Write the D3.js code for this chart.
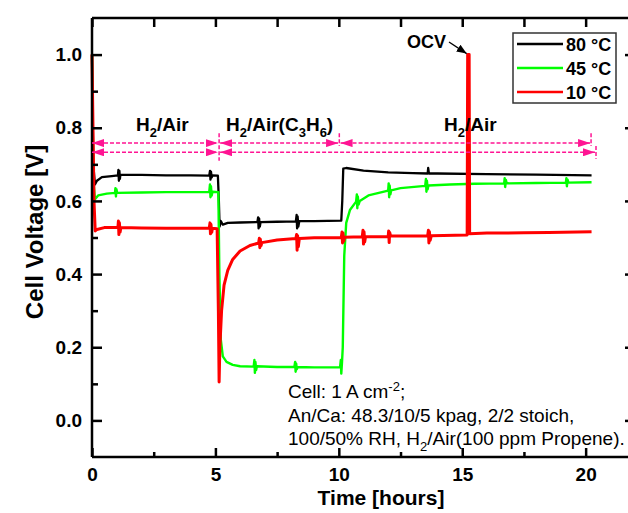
<!DOCTYPE html>
<html><head><meta charset="utf-8">
<script src="https://cdn.jsdelivr.net/npm/d3@7/dist/d3.min.js"></script>
<style>
html,body{margin:0;padding:0;background:#fff;}
svg{display:block;font-family:"Liberation Sans",Arial,sans-serif;}
</style></head>
<body>
<svg id="chart" width="628" height="513"></svg>
<script>
// ---- data (time in hours, voltage in V) ----
const seriesNames = ["80 °C", "45 °C", "10 °C"];
const seriesColors = ["#000000", "#00ff00", "#ff0000"];

const black80 = [
[0,1.0],[0.05,0.70],[0.12,0.645],[0.2,0.655],[0.4,0.665],[0.8,0.668],[1.05,0.670],[1.07,0.685],[1.09,0.655],[1.11,0.682],[1.13,0.66],[1.15,0.671],
[2,0.671],[3,0.670],[4,0.670],[4.75,0.669],[4.78,0.682],[4.8,0.658],[4.82,0.68],[4.85,0.664],[4.88,0.670],[5.1,0.669],[5.14,0.60],[5.17,0.53],
[5.22,0.545],[5.3,0.535],[5.5,0.540],[6,0.541],[6.7,0.542],[6.73,0.555],[6.75,0.525],[6.77,0.552],[6.8,0.53],[6.83,0.542],[7.5,0.543],[8.26,0.544],
[8.29,0.562],[8.31,0.525],[8.33,0.558],[8.36,0.53],[8.4,0.545],[9,0.545],[10.1,0.546],[10.14,0.60],[10.18,0.688],[10.3,0.690],[11,0.683],[12,0.678],
[13,0.676],[13.6,0.675],[13.62,0.69],[13.65,0.675],[14,0.675],[16,0.673],[18,0.672],[20.24,0.670]
];
const green45 = [
[0,1.0],[0.05,0.66],[0.12,0.605],[0.25,0.615],[0.6,0.62],[0.93,0.622],[0.95,0.635],[0.97,0.612],[0.99,0.632],[1.02,0.622],[2,0.623],
[3,0.624],[4,0.624],[4.75,0.624],[4.78,0.645],[4.8,0.61],[4.82,0.64],[4.85,0.615],[4.88,0.625],[5.12,0.624],[5.16,0.40],[5.22,0.22],[5.3,0.175],
[5.45,0.16],[5.7,0.152],[6,0.148],[6.55,0.147],[6.58,0.165],[6.6,0.13],[6.62,0.16],[6.65,0.138],[6.68,0.148],[7.5,0.146],[8.2,0.146],[8.23,0.16],
[8.25,0.133],[8.27,0.156],[8.3,0.14],[8.33,0.146],[9,0.145],[10.05,0.145],[10.08,0.165],[10.1,0.128],[10.13,0.16],[10.16,0.2],[10.22,0.45],[10.3,0.54],[10.45,0.575],
[10.7,0.598],[10.73,0.618],[10.75,0.58],[10.77,0.612],[10.8,0.59],[10.85,0.60],[11.2,0.615],[12,0.628],[12.02,0.648],[12.04,0.61],[12.06,0.642],[12.09,0.618],[12.12,0.629],[12.5,0.635],
[13.5,0.641],[13.53,0.66],[13.55,0.625],[13.57,0.655],[13.6,0.632],[13.63,0.642],[14.5,0.645],[15.5,0.647],[16.7,0.648],[16.72,0.662],[16.74,0.638],[16.77,0.657],[16.8,0.648],
[18,0.649],[19.2,0.650],[19.22,0.662],[19.24,0.64],[19.27,0.658],[19.3,0.650],[20.24,0.651]
];
const red10 = [
[0,1.0],[0.03,0.85],[0.08,0.6],[0.13,0.518],[0.2,0.522],[0.5,0.527],[1.05,0.527],[1.07,0.545],[1.09,0.508],[1.11,0.54],[1.14,0.515],[1.17,0.527],
[2,0.526],[3,0.525],[4,0.525],[4.75,0.525],[4.78,0.54],[4.8,0.51],[4.82,0.536],[4.85,0.514],[4.88,0.525],[5.07,0.524],[5.12,0.30],[5.15,0.105],
[5.18,0.20],[5.25,0.30],[5.35,0.37],[5.5,0.41],[5.7,0.44],[6,0.463],[6.4,0.478],[6.75,0.485],[6.78,0.498],[6.8,0.472],[6.82,0.495],[6.85,0.478],
[6.88,0.486],[7.5,0.493],[8.26,0.497],[8.29,0.508],[8.31,0.465],[8.33,0.505],[8.36,0.475],[8.4,0.497],[9,0.499],[10.1,0.50],[10.13,0.515],[10.15,0.485],
[10.17,0.512],[10.2,0.49],[10.23,0.501],[10.95,0.502],[10.98,0.52],[11,0.482],[11.02,0.516],[11.05,0.488],[11.08,0.502],[12,0.503],[12.02,0.518],[12.04,0.486],[12.06,0.514],[12.1,0.504],[13.6,0.505],
[13.63,0.52],[13.65,0.485],[13.67,0.516],[13.7,0.492],[13.75,0.505],[15.2,0.507],[15.22,1.0],[15.28,1.0],[15.3,0.51],[16,0.512],[17.5,0.513],[18.5,0.514],[20.24,0.516]
];
const seriesData = [black80, green45, red10];

const xTicksMajor = [0, 5, 10, 15, 20];
const xTicksMinor = [2.5, 7.5, 12.5, 17.5];
const yTicksMajor = [0.0, 0.2, 0.4, 0.6, 0.8, 1.0];
const yTicksMinor = [0.1, 0.3, 0.5, 0.7, 0.9];

// annotation spans (hours) and levels (V)
const spanRow1 = [[0, 5.1], [5.19, 9.97], [10.07, 20.18]];
const spanRow2 = [[0, 5.1], [5.19, 20.38]];
const rowLevels = [0.758, 0.733];
const dividers = [[5.15, 0.785, 0.71], [10.02, 0.785, 0.75], [20.22, 0.785, 0.75], [20.42, 0.75, 0.715]];
const regionLabels = [
  {t: 2.85, parts: [["H",0],["2",1],["/Air",0]]},
  {t: 7.6, parts: [["H",0],["2",1],["/Air(C",0],["3",1],["H",0],["6",1],[")",0]]},
  {t: 15.33, parts: [["H",0],["2",1],["/Air",0]]}
];
const ocvPoint = [15.22, 1.0];

// ---- scales ----
const svg = d3.select("#chart");
const x = d3.scaleLinear().domain([0, 22]).range([92, 635]);
const y = d3.scaleLinear().domain([-0.1, 1.1]).range([457, 18]);
const pink = "#ff1493";

// ---- series ----
const line = d3.line().x(d => x(d[0])).y(d => y(d[1]));
const widths = [2.3, 2.4, 3];
seriesData.forEach((s, i) => {
  svg.append("path").datum(s).attr("d", line)
    .attr("fill", "none").attr("stroke", seriesColors[i])
    .attr("stroke-width", widths[i]).attr("stroke-linejoin", "round");
});

// ---- axes frame ----
const ax = svg.append("g").attr("stroke", "#000").attr("stroke-width", 2.5);
ax.append("line").attr("x1", x(0)).attr("x2", x(22)).attr("y1", y(-0.1)).attr("y2", y(-0.1));
ax.append("line").attr("x1", x(0)).attr("x2", x(22)).attr("y1", y(1.1)).attr("y2", y(1.1));
ax.append("line").attr("x1", x(0)).attr("x2", x(0)).attr("y1", y(1.1)).attr("y2", y(-0.1));
ax.append("line").attr("x1", x(22)).attr("x2", x(22)).attr("y1", y(1.1)).attr("y2", y(-0.1));

// bottom axis ticks (inward)
const bottom = d3.axisBottom(x).tickValues(xTicksMajor).tickSizeInner(-9).tickSizeOuter(0).tickPadding(11).tickFormat(d3.format("d"));
const gb = svg.append("g").attr("transform", `translate(0,${y(-0.1)})`).call(bottom);
gb.select(".domain").remove();
gb.selectAll(".tick line").attr("stroke-width", 2.5);
gb.selectAll("text").attr("font-size", 19).attr("font-weight", "bold").attr("fill", "#000")
  .attr("font-family", "Liberation Sans, Arial, sans-serif");
const gbm = svg.append("g").attr("transform", `translate(0,${y(-0.1)})`)
  .call(d3.axisBottom(x).tickValues(xTicksMinor).tickSizeInner(-5).tickSizeOuter(0).tickFormat(""));
gbm.select(".domain").remove(); gbm.selectAll(".tick line").attr("stroke-width", 2.5);

// top axis ticks
const gt = svg.append("g").attr("transform", `translate(0,${y(1.1)})`)
  .call(d3.axisTop(x).tickValues(xTicksMajor.concat(xTicksMinor)).tickSizeInner(-9).tickSizeOuter(0).tickFormat(""));
gt.select(".domain").remove(); gt.selectAll(".tick line").attr("stroke-width", 2.5);

// left axis
const left = d3.axisLeft(y).tickValues(yTicksMajor).tickSizeInner(-10).tickSizeOuter(0).tickPadding(10).tickFormat(d3.format(".1f"));
const gl = svg.append("g").attr("transform", `translate(${x(0)},0)`).call(left);
gl.select(".domain").remove();
gl.selectAll(".tick line").attr("stroke-width", 2.5);
gl.selectAll("text").attr("font-size", 19).attr("font-weight", "bold").attr("fill", "#000")
  .attr("font-family", "Liberation Sans, Arial, sans-serif");
const glm = svg.append("g").attr("transform", `translate(${x(0)},0)`)
  .call(d3.axisLeft(y).tickValues(yTicksMinor).tickSizeInner(-6).tickSizeOuter(0).tickFormat(""));
glm.select(".domain").remove(); glm.selectAll(".tick line").attr("stroke-width", 2.5);

// right axis
const gr = svg.append("g").attr("transform", `translate(${x(22)},0)`)
  .call(d3.axisRight(y).tickValues(yTicksMajor).tickSizeInner(-10).tickSizeOuter(0).tickFormat(""));
gr.select(".domain").remove(); gr.selectAll(".tick line").attr("stroke-width", 2.5);

// axis titles
svg.append("text").attr("x", 381).attr("y", 505).attr("text-anchor", "middle")
  .attr("font-size", 21).attr("font-weight", "bold").text("Time [hours]");
svg.append("text").attr("transform", "translate(43,232) rotate(-90)").attr("text-anchor", "middle")
  .attr("font-size", 24).attr("font-weight", "bold").text("Cell Voltage [V]");

// ---- pink span arrows ----
const defs = svg.append("defs");
defs.append("marker").attr("id", "ah").attr("viewBox", "0 0 12 8").attr("refX", 12).attr("refY", 4)
  .attr("markerWidth", 12).attr("markerHeight", 8).attr("markerUnits", "userSpaceOnUse").attr("orient", "auto-start-reverse")
  .append("path").attr("d", "M0,0 L12,4 L0,8 Z").attr("fill", pink);
const ga = svg.append("g");
[spanRow1, spanRow2].forEach((row, r) => {
  row.forEach(s => {
    ga.append("line").attr("x1", x(s[0])).attr("x2", x(s[1])).attr("y1", y(rowLevels[r])).attr("y2", y(rowLevels[r]))
      .attr("stroke", pink).attr("stroke-width", 1.5).attr("stroke-dasharray", "4,2")
      .attr("marker-start", "url(#ah)").attr("marker-end", "url(#ah)");
  });
});
dividers.forEach(d => {
  ga.append("line").attr("x1", x(d[0])).attr("x2", x(d[0])).attr("y1", y(d[1])).attr("y2", y(d[2]))
    .attr("stroke", pink).attr("stroke-width", 1.5).attr("stroke-dasharray", "4,2");
});

// region labels
regionLabels.forEach(l => {
  const t = svg.append("text").attr("x", x(l.t)).attr("y", 131).attr("text-anchor", "middle")
    .attr("font-size", 19).attr("font-weight", "bold");
  l.parts.forEach(p => {
    if (p[1]) t.append("tspan").attr("font-size", 13).attr("baseline-shift", "-6").text(p[0]);
    else t.append("tspan").text(p[0]);
  });
});

// OCV annotation
defs.append("marker").attr("id", "ahk").attr("viewBox", "0 0 10 8").attr("refX", 10).attr("refY", 4)
  .attr("markerWidth", 10).attr("markerHeight", 8).attr("markerUnits", "userSpaceOnUse").attr("orient", "auto")
  .append("path").attr("d", "M0,0 L10,4 L0,8 Z").attr("fill", "#000");
svg.append("text").attr("x", 407).attr("y", 48).attr("font-size", 18).attr("font-weight", "bold").text("OCV");
svg.append("line").attr("x1", 449).attr("y1", 42).attr("x2", x(ocvPoint[0]) - 1).attr("y2", y(ocvPoint[1]) - 1)
  .attr("stroke", "#000").attr("stroke-width", 1.3).attr("marker-end", "url(#ahk)");

// ---- legend ----
const lg = svg.append("g");
lg.append("rect").attr("x", 513).attr("y", 33).attr("width", 103).attr("height", 70)
  .attr("fill", "#fff").attr("stroke", "#333").attr("stroke-width", 1.5);
seriesNames.forEach((n, i) => {
  const yy = 44 + i * 24;
  lg.append("line").attr("x1", 517).attr("x2", 563).attr("y1", yy).attr("y2", yy)
    .attr("stroke", seriesColors[i]).attr("stroke-width", 2.5);
  lg.append("text").attr("x", 566).attr("y", yy + 7).attr("font-size", 18).attr("font-weight", "bold").text(n);
});

// ---- condition note ----
const note = svg.append("g").attr("font-size", 19);
const n1 = note.append("text").attr("x", 288).attr("y", 398);
n1.append("tspan").text("Cell: 1 A cm");
n1.append("tspan").attr("font-size", 13).attr("baseline-shift", "7").text("-2");
n1.append("tspan").text(";");
note.append("text").attr("x", 288).attr("y", 422).text("An/Ca: 48.3/10/5 kpag, 2/2 stoich,");
const n3 = note.append("text").attr("x", 288).attr("y", 445);
n3.append("tspan").text("100/50% RH, H");
n3.append("tspan").attr("font-size", 13).attr("baseline-shift", "-6").text("2");
n3.append("tspan").text("/Air(100 ppm Propene).");
</script>
</body></html>
